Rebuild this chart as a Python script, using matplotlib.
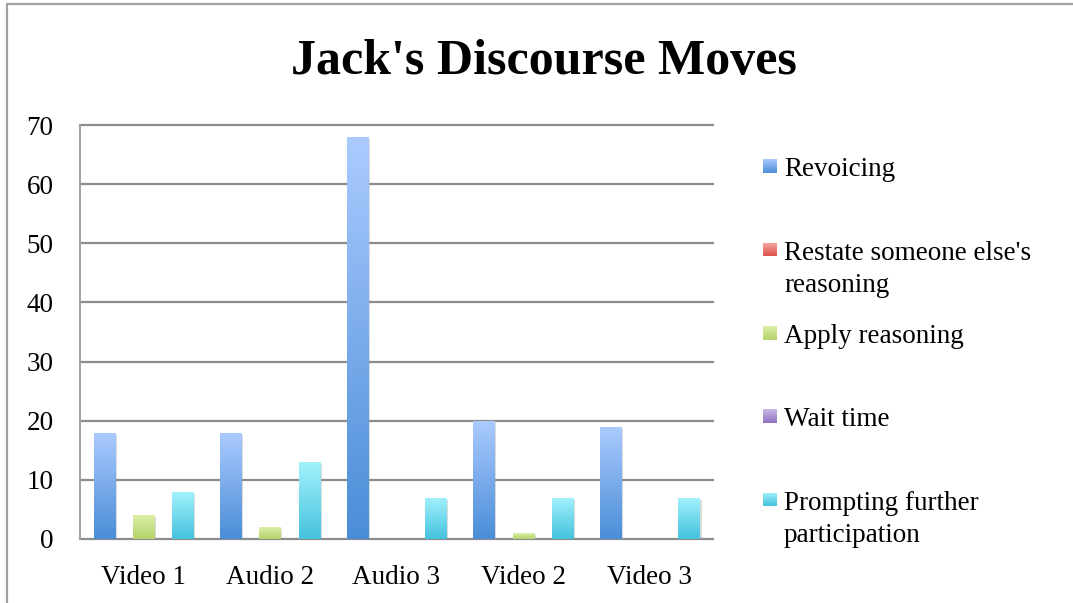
import numpy as np
import matplotlib.pyplot as plt
from matplotlib.colors import LinearSegmentedColormap
from matplotlib.lines import Line2D
import matplotlib.patheffects as pe

# chart data
categories = ["Video 1", "Audio 2", "Audio 3", "Video 2", "Video 3"]
series = ["Revoicing", "Restate someone else's\nreasoning", "Apply reasoning",
          "Wait time", "Prompting further\nparticipation"]
revoicing = [18, 18, 68, 20, 19]
restate = [0, 0, 0, 0, 0]
apply_reasoning = [4, 2, 0, 1, 0]
wait_time = [0, 0, 0, 0, 0]
prompting = [8, 13, 7, 7, 7]
values = [revoicing, restate, apply_reasoning, wait_time, prompting]
yticks = [0, 10, 20, 30, 40, 50, 60, 70]

# gradient colours (top, bottom) per series
top_colors = ["#abcbff", "#f7a9a6", "#dcefa7", "#cfbfeb", "#a3f2fc"]
bottom_colors = ["#4a8dd7", "#dc524d", "#b3d36a", "#8f71bf", "#45c2de"]

W, H = 1073, 603
FS = 19.5
plt.rcParams['font.family'] = ['Liberation Serif', 'DejaVu Serif']
fig = plt.figure(figsize=(W / 100, H / 100), dpi=100)
ax = fig.add_axes([80 / W, 1 - 539 / H, 633 / W, 414 / H])

grad = np.linspace(0, 1, 256).reshape(-1, 1)
slot = 0.155
bw = 0.166
x = np.arange(len(categories)) + 0.5
for k, vals in enumerate(values):
    cmap = LinearSegmentedColormap.from_list("g%d" % k, [bottom_colors[k], top_colors[k]])
    bars = ax.bar(x + (k - 2) * slot, vals, width=bw, facecolor="none", edgecolor="none", zorder=3,
                  path_effects=[pe.SimplePatchShadow(offset=(1.5, -1.5), shadow_rgbFace="#999999", alpha=0.35),
                                pe.Normal()])
    for p in bars.patches:
        if p.get_height() <= 0:
            continue
        x0 = p.get_x()
        im = ax.imshow(grad, extent=[x0, x0 + p.get_width(), 0, p.get_height()],
                       origin="lower", aspect="auto", cmap=cmap, zorder=4)
        im.set_clip_path(p)

ax.set_xlim(0, len(categories))
ax.set_ylim(0, 70)
ax.set_yticks(yticks)
ax.set_xticks(x)
ax.set_xticklabels(categories)
ax.tick_params(axis="both", length=0, labelsize=FS, colors="black")
ax.tick_params(axis="y", pad=19)
ax.tick_params(axis="x", pad=19)
for t in yticks:
    ax.axhline(t, color="#8c8c8c", lw=1.6, zorder=1, clip_on=False)
for s in ["top", "right", "bottom"]:
    ax.spines[s].set_visible(False)
ax.spines["left"].set_color("#a0a0a0")
ax.spines["left"].set_linewidth(1.4)

# title
fig.text(544 / W, 1 - 74 / H, "Jack's Discourse Moves", ha="center", va="baseline",
         fontsize=36, fontweight="bold")

# legend drawn by hand to follow the reference layout
sq_centers = [166, 249.5, 333, 416, 499.5]
for k, lab in enumerate(series):
    cy = sq_centers[k]
    lax = fig.add_axes([763 / W, 1 - (cy + 7) / H, 14 / W, 14 / H])
    cmap = LinearSegmentedColormap.from_list("l%d" % k, [bottom_colors[k], top_colors[k]])
    lax.imshow(grad, origin="lower", aspect="auto", cmap=cmap)
    lax.axis("off")
    for j, line in enumerate(lab.split("\n")):
        fig.text(784 / W, 1 - (cy + 10 + 32 * j) / H, line, ha="left", va="baseline", fontsize=FS)

# outer chart frame
fig.add_artist(Line2D([7 / W, 7 / W, 1], [0, 1 - 4 / H, 1 - 4 / H], color="#a0a0a0", lw=1.6))

fig.savefig("out.png", dpi=100)
